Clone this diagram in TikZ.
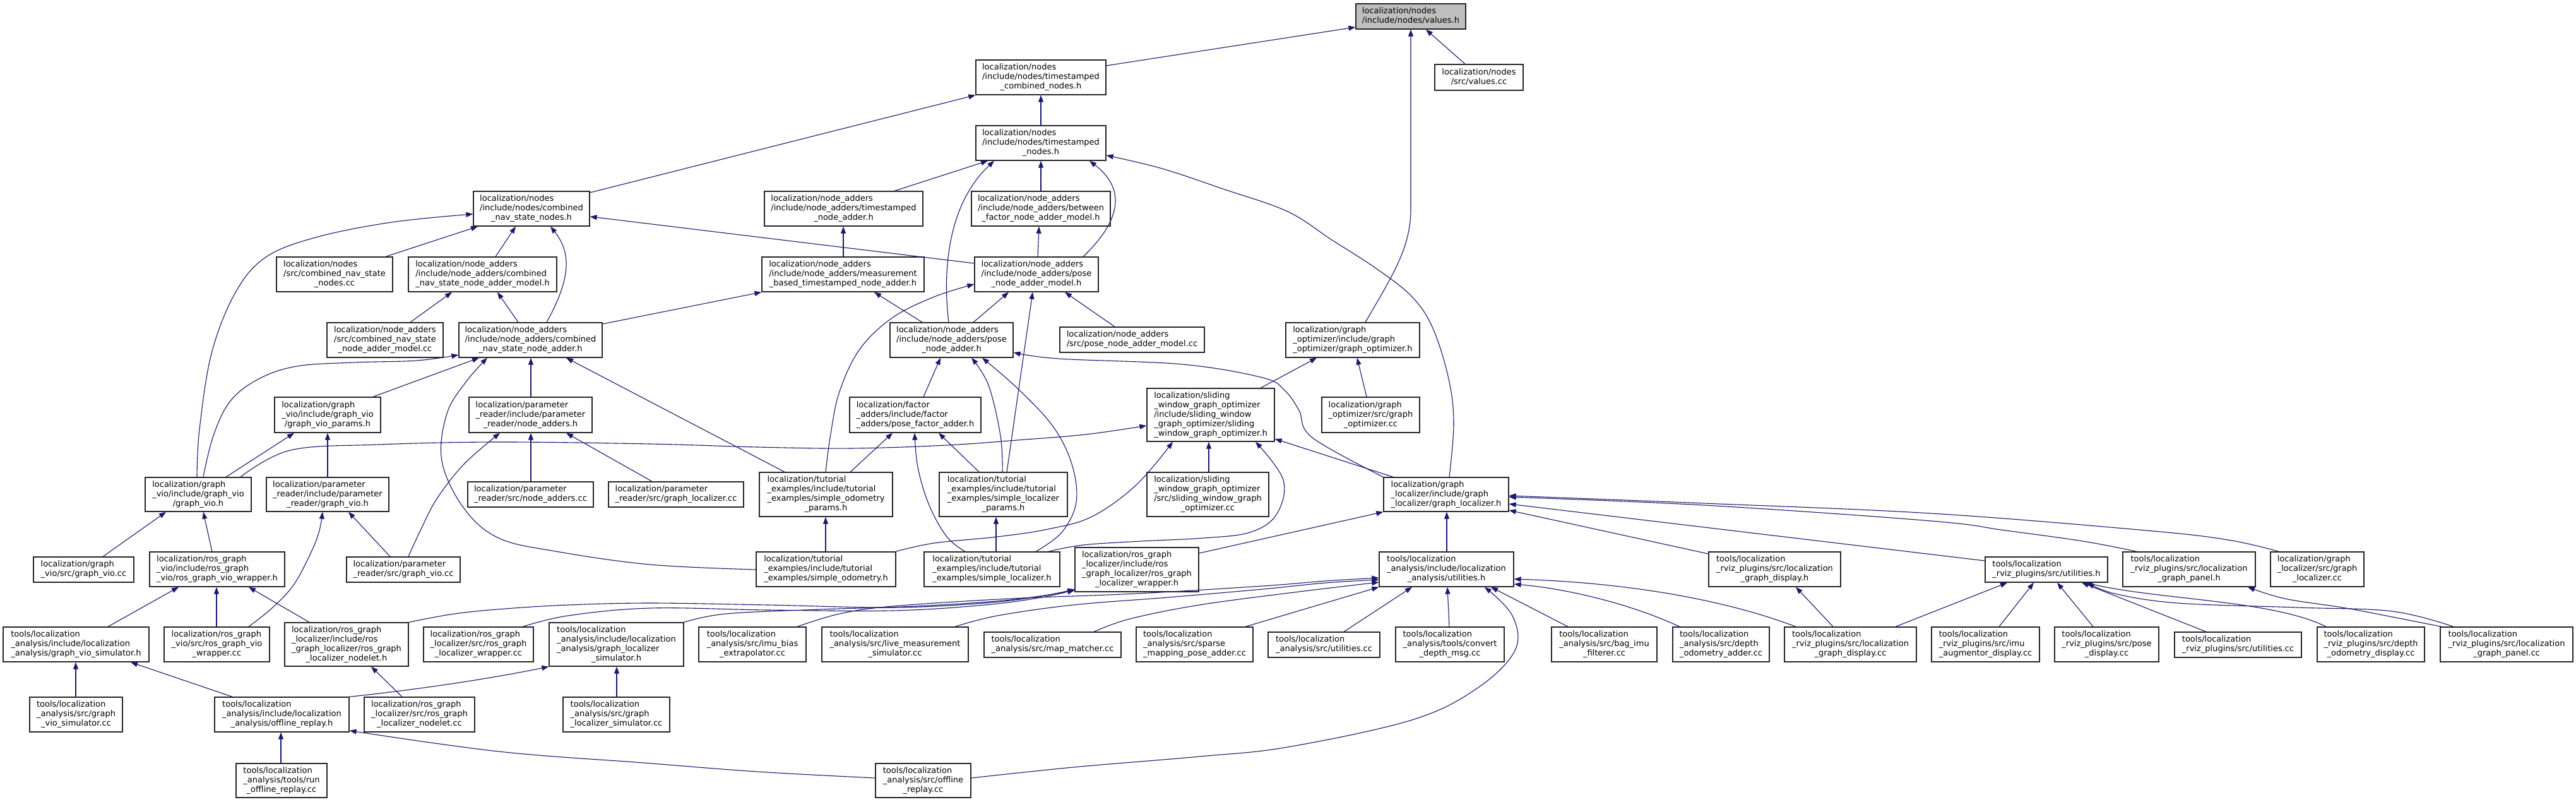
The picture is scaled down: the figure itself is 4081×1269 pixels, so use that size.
\documentclass[tikz,border=0pt]{standalone}
\usepackage{fontspec}
\setmainfont{DejaVu Sans}
\usetikzlibrary{arrows.meta}
\definecolor{edgec}{RGB}{25,25,112}
\definecolor{hl}{RGB}{191,191,191}
\newcommand\lb[1]{\begin{tabular}{@{}l@{}}#1\end{tabular}}
\newcommand\cl[1]{\multicolumn{1}{@{}c@{}}{#1}}
\newcommand\bx[7][white]{\node[nb, fill=#1, minimum width={#5pt-#3pt}, minimum height={#6pt-#4pt}] (#2) at ({(#3+#5)/2},{(#4+#6)/2}) {\lb{#7}};}
\tikzset{
  nb/.style={draw=black!85, line width=1.3pt, inner sep=0pt, font=\fontsize{13pt}{15pt}\selectfont},
  e/.style={draw=edgec, line width=1.1pt, -{Triangle[length=11pt,width=8pt]}},
  sm/.style={smooth, tension=0.6}
}
\begin{document}
\begin{tikzpicture}[x=1pt,y=-1pt]
\fill[white] (0,0) rectangle (4081,1269);
\useasboundingbox (0,0) rectangle (4081,1269);
% ---------------- nodes ----------------
\bx[hl]{A}{2148}{6}{2322}{46}{localization/nodes\\/include/nodes/values.h}
\bx{B}{2273}{102}{2413}{143}{localization/nodes\\\cl{/src/values.cc}}
\bx{C}{1546}{95}{1752}{150}{localization/nodes\\/include/nodes/timestamped\\\cl{\_combined\_nodes.h}}
\bx{D}{1546}{199}{1752}{254}{localization/nodes\\/include/nodes/timestamped\\\cl{\_nodes.h}}
\bx{E}{750}{303}{934}{358}{localization/nodes\\/include/nodes/combined\\\cl{\_nav\_state\_nodes.h}}
\bx{F}{1211}{303}{1462}{358}{localization/node\_adders\\/include/node\_adders/timestamped\\\cl{\_node\_adder.h}}
\bx{G}{1539}{303}{1759}{358}{localization/node\_adders\\/include/node\_adders/between\\\cl{\_factor\_node\_adder\_model.h}}
\bx{H}{438}{407}{622}{462}{localization/nodes\\/src/combined\_nav\_state\\\cl{\_nodes.cc}}
\bx{I}{647}{407}{882}{462}{localization/node\_adders\\/include/node\_adders/combined\\\cl{\_nav\_state\_node\_adder\_model.h}}
\bx{J}{1207}{407}{1464}{462}{localization/node\_adders\\/include/node\_adders/measurement\\\cl{\_based\_timestamped\_node\_adder.h}}
\bx{K}{1544}{407}{1740}{462}{localization/node\_adders\\/include/node\_adders/pose\\\cl{\_node\_adder\_model.h}}
\bx{L}{518}{511}{702}{566}{localization/node\_adders\\/src/combined\_nav\_state\\\cl{\_node\_adder\_model.cc}}
\bx{M}{727}{511}{954}{566}{localization/node\_adders\\/include/node\_adders/combined\\\cl{\_nav\_state\_node\_adder.h}}
\bx{N}{1410}{511}{1605}{566}{localization/node\_adders\\/include/node\_adders/pose\\\cl{\_node\_adder.h}}
\bx{O}{1679}{518}{1908}{558}{localization/node\_adders\\\cl{/src/pose\_node\_adder\_model.cc}}
\bx{P}{2037}{511}{2249}{566}{localization/graph\\\_optimizer/include/graph\\\cl{\_optimizer/graph\_optimizer.h}}
\bx{Q}{435}{629}{603}{685}{localization/graph\\\_vio/include/graph\_vio\\\cl{/graph\_vio\_params.h}}
\bx{R}{743}{629}{938}{685}{localization/parameter\\\_reader/include/parameter\\\cl{\_reader/node\_adders.h}}
\bx{S}{1346}{629}{1554}{685}{localization/factor\\\_adders/include/factor\\\cl{\_adders/pose\_factor\_adder.h}}
\bx{T}{1817}{615}{2019}{699}{localization/sliding\\\_window\_graph\_optimizer\\/include/sliding\_window\\\_graph\_optimizer/sliding\\\cl{\_window\_graph\_optimizer.h}}
\bx{U}{2094}{629}{2249}{685}{localization/graph\\\_optimizer/src/graph\\\cl{\_optimizer.cc}}
\bx{V}{230}{756}{398}{810}{localization/graph\\\_vio/include/graph\_vio\\\cl{/graph\_vio.h}}
\bx{W}{422}{756}{616}{810}{localization/parameter\\\_reader/include/parameter\\\cl{\_reader/graph\_vio.h}}
\bx{X}{741}{763}{940}{803}{localization/parameter\\\cl{\_reader/src/node\_adders.cc}}
\bx{Y}{964}{763}{1178}{803}{localization/parameter\\\cl{\_reader/src/graph\_localizer.cc}}
\bx{Z}{1203}{748}{1414}{818}{localization/tutorial\\\_examples/include/tutorial\\\_examples/simple\_odometry\\\cl{\_params.h}}
\bx{AA}{1488}{748}{1691}{818}{localization/tutorial\\\_examples/include/tutorial\\\_examples/simple\_localizer\\\cl{\_params.h}}
\bx{AB}{1817}{748}{2010}{818}{localization/sliding\\\_window\_graph\_optimizer\\/src/sliding\_window\_graph\\\cl{\_optimizer.cc}}
\bx{AC}{2192}{756}{2390}{810}{localization/graph\\\_localizer/include/graph\\\cl{\_localizer/graph\_localizer.h}}
\bx{AD}{53}{882}{212}{922}{localization/graph\\\cl{\_vio/src/graph\_vio.cc}}
\bx{AE}{237}{874}{451}{929}{localization/ros\_graph\\\_vio/include/ros\_graph\\\cl{\_vio/ros\_graph\_vio\_wrapper.h}}
\bx{AF}{549}{882}{729}{922}{localization/parameter\\\cl{\_reader/src/graph\_vio.cc}}
\bx{AG}{1198}{874}{1419}{929}{localization/tutorial\\\_examples/include/tutorial\\\cl{\_examples/simple\_odometry.h}}
\bx{AH}{1464}{874}{1679}{929}{localization/tutorial\\\_examples/include/tutorial\\\cl{\_examples/simple\_localizer.h}}
\bx{AI}{1703}{867}{1899}{937}{localization/ros\_graph\\\_localizer/include/ros\\\_graph\_localizer/ros\_graph\\\cl{\_localizer\_wrapper.h}}
\bx{AJ}{2185}{874}{2398}{929}{tools/localization\\\_analysis/include/localization\\\cl{\_analysis/utilities.h}}
\bx{AK}{2707}{874}{2916}{929}{tools/localization\\\_rviz\_plugins/src/localization\\\cl{\_graph\_display.h}}
\bx{AL}{3145}{882}{3339}{922}{tools/localization\\\cl{\_rviz\_plugins/src/utilities.h}}
\bx{AM}{3363}{874}{3573}{929}{tools/localization\\\_rviz\_plugins/src/localization\\\cl{\_graph\_panel.h}}
\bx{AN}{3597}{874}{3745}{929}{localization/graph\\\_localizer/src/graph\\\cl{\_localizer.cc}}
\bx{AO}{5}{993}{236}{1048}{tools/localization\\\_analysis/include/localization\\\cl{\_analysis/graph\_vio\_simulator.h}}
\bx{AP}{260}{993}{427}{1048}{localization/ros\_graph\\\_vio/src/ros\_graph\_vio\\\cl{\_wrapper.cc}}
\bx{AQ}{451}{986}{647}{1055}{localization/ros\_graph\\\_localizer/include/ros\\\_graph\_localizer/ros\_graph\\\cl{\_localizer\_nodelet.h}}
\bx{AR}{671}{993}{845}{1048}{localization/ros\_graph\\\_localizer/src/ros\_graph\\\cl{\_localizer\_wrapper.cc}}
\bx{AS}{870}{986}{1083}{1055}{tools/localization\\\_analysis/include/localization\\\_analysis/graph\_localizer\\\cl{\_simulator.h}}
\bx{AT}{1107}{993}{1277}{1048}{tools/localization\\\_analysis/src/imu\_bias\\\cl{\_extrapolator.cc}}
\bx{AU}{1302}{993}{1534}{1048}{tools/localization\\\_analysis/src/live\_measurement\\\cl{\_simulator.cc}}
\bx{AV}{1559}{1001}{1776}{1041}{tools/localization\\\cl{\_analysis/src/map\_matcher.cc}}
\bx{AW}{1800}{993}{1985}{1048}{tools/localization\\\_analysis/src/sparse\\\cl{\_mapping\_pose\_adder.cc}}
\bx{AX}{2009}{1001}{2186}{1041}{tools/localization\\\cl{\_analysis/src/utilities.cc}}
\bx{AY}{2211}{993}{2383}{1048}{tools/localization\\\_analysis/tools/convert\\\cl{\_depth\_msg.cc}}
\bx{AZ}{2458}{993}{2625}{1048}{tools/localization\\\_analysis/src/bag\_imu\\\cl{\_filterer.cc}}
\bx{BA}{2650}{993}{2803}{1048}{tools/localization\\\_analysis/src/depth\\\cl{\_odometry\_adder.cc}}
\bx{BB}{2827}{993}{3036}{1048}{tools/localization\\\_rviz\_plugins/src/localization\\\cl{\_graph\_display.cc}}
\bx{BC}{3060}{993}{3231}{1048}{tools/localization\\\_rviz\_plugins/src/imu\\\cl{\_augmentor\_display.cc}}
\bx{BD}{3255}{993}{3420}{1048}{tools/localization\\\_rviz\_plugins/src/pose\\\cl{\_display.cc}}
\bx{BE}{3445}{1001}{3646}{1041}{tools/localization\\\cl{\_rviz\_plugins/src/utilities.cc}}
\bx{BF}{3671}{993}{3841}{1048}{tools/localization\\\_rviz\_plugins/src/depth\\\cl{\_odometry\_display.cc}}
\bx{BG}{3866}{993}{4076}{1048}{tools/localization\\\_rviz\_plugins/src/localization\\\cl{\_graph\_panel.cc}}
\bx{BH}{47}{1104}{194}{1159}{tools/localization\\\_analysis/src/graph\\\cl{\_vio\_simulator.cc}}
\bx{BI}{340}{1104}{553}{1159}{tools/localization\\\_analysis/include/localization\\\cl{\_analysis/offline\_replay.h}}
\bx{BJ}{577}{1104}{752}{1159}{localization/ros\_graph\\\_localizer/src/ros\_graph\\\cl{\_localizer\_nodelet.cc}}
\bx{BK}{892}{1104}{1061}{1159}{tools/localization\\\_analysis/src/graph\\\cl{\_localizer\_simulator.cc}}
\bx{BL}{374}{1209}{518}{1263}{tools/localization\\\_analysis/tools/run\\\cl{\_offline\_replay.cc}}
\bx{BM}{1387}{1209}{1538}{1263}{tools/localization\\\_analysis/src/offline\\\cl{\_replay.cc}}
% ---------------- edges ----------------
\draw[e] (C.east |- 0,104) -- (A.west |- 0,43);
\draw[e] (B.north -| 2321,0) -- (A.south -| 2259,0);
\draw[e] (P.north -| 2163,0) .. controls (2210,430) and (2235,390) .. (2235,330) -- (A.south -| 2235,0);
\draw[e] plot[sm] coordinates {(AC.north -| 2296,0) (2303,670) (2295,600) (2270,520) (2237,470) (2180,425) (2110,380) (2040,335) (1940,300) (1841,267) (D.east |- 0,246)};
\draw[e] (E.east |- 0,305) -- (C.south west);
\draw[e] (D.north) -- (C.south);
\draw[e] (F.north -| 1417,0) -- (D.south -| 1565,0);
\draw[e] (N.north -| 1503,0) .. controls (1492,420) and (1505,320) .. (D.south -| 1575,0);
\draw[e] (G.north) -- (D.south);
\draw[e] (K.north -| 1716,0) .. controls (1775,350) and (1785,300) .. (D.south -| 1726,0);
\draw[e] plot[sm] coordinates {(V.north -| 312,0) (316,680) (335,560) (372,465) (420,408) (500,376) (620,352) (E.west |- 0,339)};
\draw[e] (H.north -| 611,0) -- (E.south -| 757,0);
\draw[e] (I.north -| 785,0) -- (E.south -| 817,0);
\draw[e] (M.north -| 866,0) .. controls (905,440) and (905,400) .. (E.south -| 872,0);
\draw[e] (K.west |- 0,417) -- (E.east |- 0,343);
\draw[e] (J.north -| 1336,0) -- (F.south -| 1336,0);
\draw[e] (K.north -| 1644,0) -- (G.south -| 1646,0);
\draw[e] (L.north -| 650,0) -- (I.south -| 716,0);
\draw[e] (M.north -| 821,0) -- (I.south -| 788,0);
\draw[e] plot[sm] coordinates {(V.north -| 322,0) (338,690) (365,635) (410,600) (470,580) (560,574) (660,571) (M.west |- 0,562)};
\draw[e] (Q.north -| 591,0) -- (M.south -| 759,0);
\draw[e] plot[sm] coordinates {(AG.west |- 0,902) (1030,894) (880,873) (790,852) (735,805) (700,730) (708,655) (738,605) (M.south -| 772,0)};
\draw[e] (R.north -| 841,0) -- (M.south -| 841,0);
\draw[e] (Z.north -| 1243,0) -- (M.south -| 897,0);
\draw[e] (M.east |- 0,513) -- (J.south west);
\draw[e] (N.north -| 1461,0) -- (J.south -| 1385,0);
\draw[e] (N.north -| 1542,0) -- (K.south -| 1598,0);
\draw[e] plot[sm] coordinates {(Z.north -| 1308,0) (1316,687) (1330,620) (1362,553) (1414,503) (1480,470) (K.west |- 0,450)};
\draw[e] (AA.north -| 1595,0) -- (K.south -| 1636,0);
\draw[e] (O.north -| 1766,0) -- (K.south -| 1687,0);
\draw[e] (S.north -| 1463,0) -- (N.south -| 1490,0);
\draw[e] plot[sm] coordinates {(AA.north -| 1588,0) (1585,690) (1566,610) (N.south -| 1539,0)};
\draw[e] plot[sm] coordinates {(AH.north -| 1641,0) (1682,843) (1705,795) (1698,735) (1668,675) (1612,615) (N.south -| 1556,0)};
\draw[e] plot[sm] coordinates {(AC.north west) (2079,693) (2058,650) (2035,618) (2000,598) (1874,577) (1677,568) (N.east |- 0,558)};
\draw[e] (Z.north -| 1347,0) -- (S.south -| 1414,0);
\draw[e] plot[sm] coordinates {(AH.north -| 1529,0) (1500,850) (1472,800) (1454,740) (S.south -| 1449,0)};
\draw[e] (AA.north -| 1551,0) -- (S.south -| 1487,0);
\draw[e] (T.north -| 1997,0) -- (P.south -| 2086,0);
\draw[e] (U.north -| 2165,0) -- (P.south -| 2150,0);
\draw[e] plot[sm] coordinates {(V.north -| 381,0) (460,713) (600,704) (788,700) (1030,703) (1200,708) (1348,710) (1500,705) (1611,697) (1720,688) (T.west |- 0,674)};
\draw[e] plot[sm] coordinates {(AG.north -| 1419,0) (1480,860) (1580,850) (1660,838) (1730,818) (1800,768) (T.south -| 1858,0)};
\draw[e] (AB.north -| 1915,0) -- (T.south -| 1915,0);
\draw[e] plot[sm] coordinates {(AH.north -| 1661,0) (1716,863) (1808,857) (1907,852) (1980,843) (2022,815) (2033,760) (T.south -| 1989,0)};
\draw[e] (AC.north -| 2207,0) -- (T.east |- 0,695);
\draw[e] (AG.north -| 1308,0) -- (Z.south -| 1308,0);
\draw[e] (AH.north -| 1578,0) -- (AA.south -| 1578,0);
\draw[e] (AI.east |- 0,876) -- (AC.south west);
\draw[e] (V.north -| 358,0) -- (Q.south -| 466,0);
\draw[e] (W.north -| 519,0) -- (Q.south -| 519,0);
\draw[e] plot[sm] coordinates {(AF.north -| 647,0) (666,840) (692,790) (735,735) (R.south -| 792,0)};
\draw[e] (X.north -| 841,0) -- (R.south -| 841,0);
\draw[e] (Y.north -| 1033,0) -- (R.south -| 897,0);
\draw[e] (AD.north -| 163,0) -- (V.south -| 263,0);
\draw[e] (AE.north -| 336,0) -- (V.south -| 322,0);
\draw[e] plot[sm] coordinates {(AP.north -| 394,0) (432,962) (466,925) (494,872) (506,840) (W.south -| 511,0)};
\draw[e] (AF.north -| 618,0) -- (W.south -| 552,0);
\draw[e] (AO.north -| 171,0) -- (AE.south -| 283,0);
\draw[e] (AP.north -| 343,0) -- (AE.south -| 343,0);
\draw[e] (AQ.north -| 490,0) -- (AE.south -| 394,0);
\draw[e] plot[sm] coordinates {(AQ.north east) (720,972) (800,964) (900,958) (1030,955) (1217,958) (1414,962) (1560,955) (1650,944) (AI.west |- 0,933)};
\draw[e] plot[sm] coordinates {(AR.north -| 828,0) (900,975) (1030,963) (1217,966) (1414,967) (1560,958) (1650,946) (AI.west |- 0,934)};
\draw[e] plot[sm] coordinates {(AS.north east) (1150,972) (1300,965) (1450,960) (1600,950) (AI.west |- 0,935)};
\draw[e] plot[sm] coordinates {(AT.north -| 1263,0) (1330,972) (1414,960) (1600,948) (1800,940) (2000,928) (2100,920) (AJ.west |- 0,915)};
\draw[e] plot[sm] coordinates {(AU.north -| 1513,0) (1580,975) (1700,958) (1850,946) (2000,933) (2100,923) (AJ.west |- 0,918)};
\draw[e] plot[sm] coordinates {(AV.north -| 1733,0) (1790,980) (1900,958) (2050,938) (AJ.west |- 0,922)};
\draw[e] (AW.north -| 1973,0) -- (AJ.south west);
\draw[e] (AX.north -| 2129,0) -- (AJ.south -| 2237,0);
\draw[e] (AY.north -| 2296,0) -- (AJ.south -| 2293,0);
\draw[e] plot[sm] coordinates {(BM.east |- 0,1232) (1700,1215) (1900,1198) (2040,1183) (2237,1140) (2340,1090) (2400,1030) (2396,975) (AJ.south -| 2352,0)};
\draw[e] (AZ.north -| 2484,0) -- (AJ.south -| 2362,0);
\draw[e] (BA.north -| 2661,0) .. controls (2580,955) and (2480,932) .. (AJ.east |- 0,925);
\draw[e] (BB.north -| 2845,0) .. controls (2720,945) and (2560,922) .. (AJ.east |- 0,917);
\draw[e] (AK.west |- 0,877) -- (AC.east |- 0,808);
\draw[e] (BB.north -| 2904,0) -- (AK.south -| 2845,0);
\draw[e] (AL.west |- 0,888) -- (AC.east |- 0,798);
\draw[e] plot[sm] coordinates {(AM.north -| 3385,0) (3300,857) (3177,840) (3060,825) (2700,800) (AC.east |- 0,787)};
\draw[e] plot[sm] coordinates {(AN.north -| 3610,0) (3530,855) (3400,840) (3060,813) (2700,797) (AC.east |- 0,785)};
\draw[e] (AJ.north -| 2292,0) -- (AC.south -| 2292,0);
\draw[e] (BB.north -| 3003,0) -- (AL.south -| 3180,0);
\draw[e] (BC.north -| 3167,0) -- (AL.south -| 3222,0);
\draw[e] (BD.north -| 3316,0) -- (AL.south -| 3259,0);
\draw[e] (BE.north -| 3495,0) -- (AL.south -| 3298,0);
\draw[e] (BF.north -| 3685,0) .. controls (3600,950) and (3420,950) .. (AL.south -| 3304,0);
\draw[e] plot[sm] coordinates {(BG.north -| 3887,0) (3790,968) (3640,962) (3450,955) (3350,940) (AL.south -| 3307,0)};
\draw[e] plot[sm] coordinates {(BG.north -| 3868,0) (3780,975) (3711,962) (3620,948) (AM.south -| 3561,0)};
\draw[e] (BH.north -| 120,0) -- (AO.south -| 120,0);
\draw[e] (BI.north -| 368,0) -- (AO.south -| 207,0);
\draw[e] (BJ.north -| 637,0) -- (AQ.south -| 588,0);
\draw[e] (BI.north east) .. controls (680,1090) and (790,1072) .. (AS.south west);
\draw[e] (BK.north -| 977,0) -- (AS.south -| 977,0);
\draw[e] (BL.north -| 445,0) -- (BI.south -| 445,0);
\draw[e] plot[sm] coordinates {(BM.west |- 0,1232) (1200,1222) (1020,1208) (790,1190) (BI.east |- 0,1157)};
\end{tikzpicture}
\end{document}
